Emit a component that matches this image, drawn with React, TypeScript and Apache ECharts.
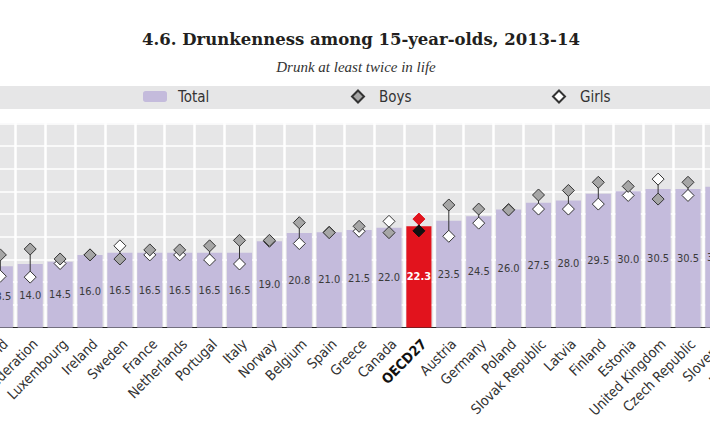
import React, { useEffect, useRef } from "react";
import * as echarts from "echarts";

const categories = ["Switzerland", "Russian Federation", "Luxembourg", "Ireland", "Sweden", "France", "Netherlands", "Portugal", "Italy", "Norway", "Belgium", "Spain", "Greece", "Canada", "OECD27", "Austria", "Germany", "Poland", "Slovak Republic", "Latvia", "Finland", "Estonia", "United Kingdom", "Czech Republic", "Slovenia", "Lithuania"];
const totalValues = [13.5, 14.0, 14.5, 16.0, 16.5, 16.5, 16.5, 16.5, 16.5, 19.0, 20.8, 21.0, 21.5, 22.0, 22.3, 23.5, 24.5, 26.0, 27.5, 28.0, 29.5, 30.0, 30.5, 30.5, 31.0, 32.0];
const boysValues = [16.0, 17.3, 15.1, 16.0, 15.1, 17.1, 17.1, 18.0, 19.2, 19.2, 23.1, 20.9, 22.3, 20.9, 21.3, 27.0, 26.1, 25.9, 29.2, 30.2, 32.0, 31.1, 28.3, 32.0, 33.0, 34.0];
const girlsValues = [11.3, 11.1, 14.1, 16.0, 18.0, 16.0, 16.0, 14.9, 14.0, 19.0, 18.5, 21.0, 21.2, 23.4, 23.9, 20.1, 23.0, 26.0, 26.1, 26.1, 27.2, 29.1, 32.7, 29.1, 29.0, 30.0];
const yTicks = { min: 0, max: 45, interval: 5 };
const highlight = "OECD27";

const NARROW = "'DejaVu Sans Condensed', 'Liberation Sans Narrow', 'DejaVu Sans', sans-serif";
const BAR = "#c4bbdc";
const RED = "#e2131d";
const OFF = 60; // chart is wider than the page and shifted left by OFF px
const W = 830;

export default function App() {
  const ref = useRef<HTMLDivElement>(null);
  useEffect(() => {
    document.body.style.margin = "0";
    const chart = echarts.init(ref.current!, null, { renderer: "svg" });
    const hi = categories.indexOf(highlight);
    const option: any = {
      animation: false,
      backgroundColor: "#ffffff",
      graphic: [
        { type: "rect", z: 0, shape: { x: 0, y: 86, width: W, height: 23 }, style: { fill: "#e6e6e7" } },
        {
          type: "text", x: 361 + OFF, y: 39,
          style: { text: "4.6. Drunkenness among 15-year-olds, 2013-14", font: "bold 16.5px 'DejaVu Serif', serif", fill: "#231f20", align: "center", verticalAlign: "middle" },
        },
        {
          type: "text", x: 356 + OFF, y: 67,
          style: { text: "Drunk at least twice in life", font: "italic 15px 'Liberation Serif', serif", fill: "#333333", align: "center", verticalAlign: "middle" },
        },
      ],
      legend: [
        { data: ["Total"], left: 143 + OFF, top: 89, padding: 0, itemWidth: 24, itemHeight: 11, selectedMode: false, textStyle: { fontFamily: NARROW, fontSize: 15, color: "#333", padding: [0, 0, 0, 6] } },
        { data: ["Boys"], left: 351 + OFF, top: 89, padding: 0, itemWidth: 12, itemHeight: 12, selectedMode: false, textStyle: { fontFamily: NARROW, fontSize: 15, color: "#333", padding: [0, 0, 0, 10] } },
        { data: ["Girls"], left: 552 + OFF, top: 89, padding: 0, itemWidth: 12, itemHeight: 12, selectedMode: false, textStyle: { fontFamily: NARROW, fontSize: 15, color: "#333", padding: [0, 0, 0, 10] } },
      ],
      grid: { left: OFF - 14.65, width: 26 * 29.9, top: 123.3, bottom: 106.5, show: true, backgroundColor: "#e6e6e7", borderWidth: 0 },
      xAxis: {
        type: "category",
        data: categories,
        axisLine: { lineStyle: { color: "#222", width: 1 } },
        axisTick: { inside: true, length: 4, lineStyle: { color: "#555" } },
        splitLine: { show: true, interval: 0, lineStyle: { color: "#ffffff", width: 2.5 } },
        axisLabel: {
          interval: 0, rotate: 45, margin: 9, verticalAlign: "top", fontFamily: NARROW, fontSize: 14, color: "#333",
          formatter: (v: string) => (v === highlight ? `{b|${v}}` : v),
          rich: { b: { fontFamily: NARROW, fontSize: 14, fontWeight: "bold", color: "#111" } },
        },
      },
      yAxis: {
        type: "value", ...yTicks,
        axisLine: { show: false }, axisTick: { show: false }, axisLabel: { show: false },
        splitLine: { lineStyle: { color: "#ffffff", width: 1.5 } },
      },
      series: [
        {
          name: "Total", type: "bar", barWidth: "84%", itemStyle: { color: BAR },
          label: { show: true, position: "inside", fontFamily: NARROW, fontSize: 11, color: "#3a3a3a", formatter: (p: any) => Number(p.value).toFixed(1) },
          data: totalValues.map((v, i) => (i === hi ? { value: v, itemStyle: { color: RED }, label: { color: "#fff", fontWeight: "bold" } } : v)),
        },
        {
          name: "range", type: "custom", z: 3, silent: true,
          renderItem: (params: any, api: any) => {
            const b = api.coord([api.value(0), api.value(1)]);
            const g = api.coord([api.value(0), api.value(2)]);
            return { type: "line", shape: { x1: b[0], y1: b[1], x2: g[0], y2: g[1] }, style: { stroke: "#333", lineWidth: 1 } };
          },
          data: categories.map((c, i) => [i, boysValues[i], girlsValues[i]]),
        },
        {
          name: "Girls", type: "scatter", symbol: "diamond", symbolSize: 12, z: 4,
          itemStyle: { color: "#ffffff", borderColor: "#333", borderWidth: 1, opacity: 1 },
          data: girlsValues.map((v, i) => (i === hi ? { value: v, itemStyle: { color: RED, borderColor: RED } } : v)),
        },
        {
          name: "Boys", type: "scatter", symbol: "diamond", symbolSize: 12, z: 5,
          itemStyle: { color: "#a6a6a6", borderColor: "#333", borderWidth: 1, opacity: 1 },
          data: boysValues.map((v, i) => (i === hi ? { value: v, itemStyle: { color: "#111", borderColor: "#111" } } : v)),
        },
      ],
    };
    chart.setOption(option);
    return () => chart.dispose();
  }, []);
  return (
    <div style={{ position: "fixed", left: 0, top: 0, width: 710, height: 434, overflow: "hidden" }}>
      <div ref={ref} style={{ position: "absolute", left: -OFF, top: 0, width: W, height: 434 }} />
    </div>
  );
}
